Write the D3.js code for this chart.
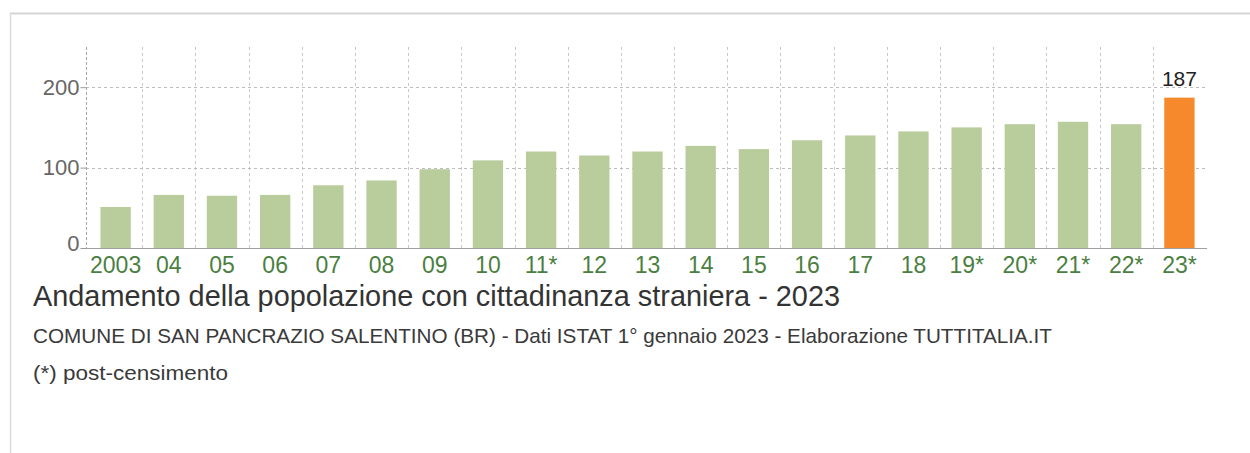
<!DOCTYPE html>
<html>
<head>
<meta charset="utf-8">
<script src="https://cdn.jsdelivr.net/npm/d3@7"></script>
<style>
  html, body { margin: 0; padding: 0; background: #fff; }
  svg { display: block; font-family: "Liberation Sans", Arial, sans-serif; }
</style>
</head>
<body>
<svg id="chart" width="1250" height="453"></svg>
<script>
// Foreign-citizen residents, 1 January of each year
const years = ["2003","04","05","06","07","08","09","10","11*","12","13","14","15","16","17","18","19*","20*","21*","22*","23*"];
const residents = [51, 66, 65, 66, 78, 84, 98, 109, 120, 115, 120, 127, 123, 134, 140, 145, 150, 154, 157, 154, 187];
const yTicks = [0, 100, 200];
const yMax = 250;

const titleText = "Andamento della popolazione con cittadinanza straniera - 2023";
const sourceText = "COMUNE DI SAN PANCRAZIO SALENTINO (BR) - Dati ISTAT 1\u00B0 gennaio 2023 - Elaborazione TUTTITALIA.IT";
const noteText = "(*) post-censimento";

const svg = d3.select("#chart");

// panel frame (top and left edges)
svg.append("line").attr("x1", 10).attr("x2", 1250).attr("y1", 13.5).attr("y2", 13.5)
  .attr("stroke", "#d6d6d6").attr("stroke-width", 2);
svg.append("line").attr("x1", 10.5).attr("x2", 10.5).attr("y1", 13).attr("y2", 453)
  .attr("stroke", "#dcdcdc").attr("stroke-width", 1.5);

const plot = { left: 86, right: 1207, top: 47, bottom: 248 };

const x = d3.scaleBand().domain(years).range([89, 1206]).paddingInner(0.43).paddingOuter(0.215);
const y = d3.scaleLinear().domain([0, yMax]).range([plot.bottom, plot.top]);

// vertical dashed gridlines at band boundaries
const step = x.step();
const bounds = years.slice(1).map(d => x(d) - x.paddingInner() * step / 2);
svg.append("g").selectAll("line").data(bounds).join("line")
  .attr("x1", d => Math.round(d) + 0.5).attr("x2", d => Math.round(d) + 0.5)
  .attr("y1", plot.top).attr("y2", plot.bottom)
  .attr("stroke", "#c8c8c8").attr("stroke-dasharray", "3,3");

// horizontal dashed gridlines
svg.append("g").selectAll("line").data(yTicks.filter(t => t > 0)).join("line")
  .attr("x1", plot.left).attr("x2", plot.right)
  .attr("y1", d => Math.round(y(d)) + 0.5).attr("y2", d => Math.round(y(d)) + 0.5)
  .attr("stroke", "#bdbdbd").attr("stroke-dasharray", "3,3");

// bars
svg.append("g").selectAll("rect").data(years).join("rect")
  .attr("x", d => x(d))
  .attr("width", x.bandwidth())
  .attr("y", (d, i) => y(residents[i]))
  .attr("height", (d, i) => y(0) - y(residents[i]))
  .attr("fill", (d, i) => i === years.length - 1 ? "#f5892c" : "#b8cc9c");

// value label on the latest year
const last = years.length - 1;
svg.append("text")
  .attr("x", x(years[last]) + x.bandwidth() / 2)
  .attr("y", y(residents[last]) - 12)
  .attr("text-anchor", "middle")
  .attr("font-size", 21)
  .attr("fill", "#222")
  .text(residents[last]);

// y axis
const yAxis = svg.append("g").attr("transform", `translate(${plot.left + 0.5},0)`)
  .call(d3.axisLeft(y).tickValues(yTicks).tickSize(6).tickPadding(1));
yAxis.select(".domain").remove();
yAxis.selectAll(".tick line").attr("stroke", "#999");
yAxis.selectAll(".tick text").attr("font-size", 22).attr("fill", "#666")
  .attr("font-family", "Liberation Sans, Arial, sans-serif");
yAxis.selectAll(".tick").filter(d => d === 0).select("text").attr("dy", "0.1em");
svg.append("line").attr("x1", plot.left + 0.5).attr("x2", plot.left + 0.5)
  .attr("y1", plot.top).attr("y2", plot.bottom)
  .attr("stroke", "#a8a8a8").attr("stroke-dasharray", "3,2");

// x axis
const xAxis = svg.append("g").attr("transform", `translate(0,${plot.bottom + 0.5})`)
  .call(d3.axisBottom(x).tickSize(0).tickPadding(8));
xAxis.select(".domain").attr("d", `M${plot.left},0H${plot.right}`).attr("stroke", "#a0a0a0");
xAxis.selectAll(".tick text").attr("font-size", 23).attr("fill", "#4b7f42")
  .attr("font-family", "Liberation Sans, Arial, sans-serif");

// titles
svg.append("text").attr("x", 33).attr("y", 306)
  .attr("font-size", 29).attr("fill", "#333")
  .attr("textLength", 807).attr("lengthAdjust", "spacingAndGlyphs")
  .text(titleText);
svg.append("text").attr("x", 33).attr("y", 343)
  .attr("font-size", 21).attr("fill", "#3a3a3a")
  .attr("textLength", 1019).attr("lengthAdjust", "spacingAndGlyphs")
  .text(sourceText);
svg.append("text").attr("x", 33).attr("y", 380)
  .attr("font-size", 21).attr("fill", "#3a3a3a")
  .attr("textLength", 195).attr("lengthAdjust", "spacingAndGlyphs")
  .text(noteText);
</script>
</body>
</html>
